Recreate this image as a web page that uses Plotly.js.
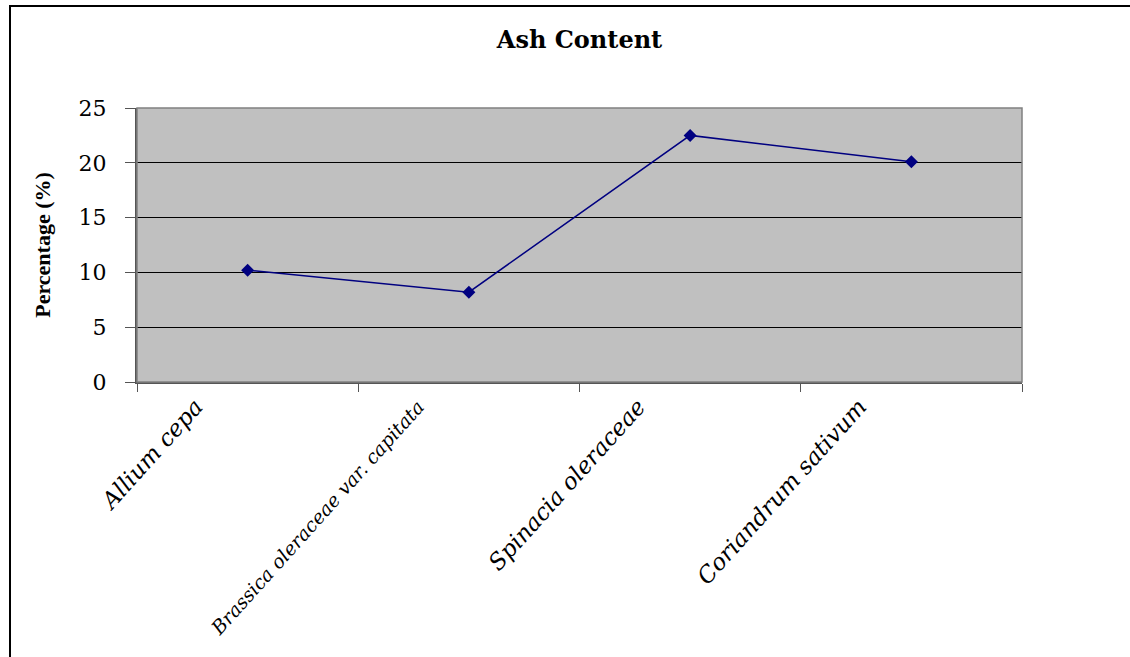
<!DOCTYPE html>
<html>
<head>
<meta charset="utf-8">
<script src="https://cdn.plot.ly/plotly-3.0.1.min.js"></script>
<style>
  html, body { margin: 0; padding: 0; background: #ffffff; overflow: hidden; }
  #chart { position: absolute; left: 0; top: 0; width: 1130px; height: 657px; }
  #frame { position: absolute; left: 9px; top: 5px; width: 1200px; height: 700px;
           border-left: 2px solid #000; border-top: 2px solid #000; pointer-events: none; }
</style>
</head>
<body>
<div id="chart"></div>
<div id="frame"></div>
<script>
// Ash content (%) of four vegetables
const species = [
  "Allium cepa",
  "Brassica oleraceae var. capitata",
  "Spinacia oleraceae",
  "Coriandrum sativum"
];
const ashPercent = [10.2, 8.2, 22.5, 20.1];
const yTicks = [0, 5, 10, 15, 20, 25];

// long names get a slightly smaller type size so the slanted label stays on the page
const speciesLabels = species.map(s =>
  s.length > 24 ? '<span style="font-size:19px">' + s + '</span>' : s);

const trace = {
  type: "scatter",
  mode: "lines+markers",
  x: species,
  y: ashPercent,
  line: { color: "#000080", width: 1.5 },
  marker: { symbol: "diamond", size: 10, color: "#000080" },
  cliponaxis: false,
  hoverinfo: "x+y"
};

const layout = {
  width: 1130,
  height: 657,
  margin: { l: 137, r: 108, t: 108, b: 275 },
  paper_bgcolor: "rgba(0,0,0,0)",
  plot_bgcolor: "#c0c0c0",
  showlegend: false,
  title: {
    text: "<b>Ash Content</b>",
    font: { family: "DejaVu Serif", size: 24, color: "#000" },
    x: 0.5, xref: "paper",
    y: 1 - 40 / 657, yref: "container", yanchor: "middle"
  },
  xaxis: {
    type: "category",
    range: [-0.5, species.length - 0.5],
    tickmode: "array",
    tickvals: species,
    ticktext: speciesLabels,
    tickson: "boundaries",
    ticks: "outside",
    ticklen: 8,
    tickcolor: "#555",
    tickwidth: 1,
    tickangle: -48,
    ticklabelshift: -52,
    tickfont: { family: "DejaVu Serif", style: "italic", size: 23, color: "#000" },
    showline: true,
    linecolor: "#555",
    linewidth: 2,
    mirror: false,
    showgrid: false,
    zeroline: false,
    fixedrange: true
  },
  yaxis: {
    range: [0, 25],
    tickvals: yTicks,
    ticktext: yTicks.map(String),
    ticks: "outside",
    ticklen: 10,
    tickcolor: "#555",
    tickwidth: 1,
    ticklabelstandoff: 14,
    tickfont: { family: "DejaVu Serif", size: 22, color: "#000" },
    showline: true,
    linecolor: "#555",
    linewidth: 2,
    showgrid: true,
    gridcolor: "#000",
    gridwidth: 1,
    zeroline: false,
    automargin: false,
    fixedrange: true,
    title: {
      text: "<b>Percentage (%)</b>",
      font: { family: "Liberation Serif", size: 22, color: "#000" },
      standoff: 22
    }
  },
  shapes: [
    { type: "rect", xref: "paper", yref: "paper", x0: 0, x1: 1, y0: 0, y1: 1,
      line: { color: "#808080", width: 1.5 }, fillcolor: "rgba(0,0,0,0)", layer: "above" }
  ]
};

Plotly.newPlot("chart", [trace], layout, { displayModeBar: false, staticPlot: true });
</script>
</body>
</html>
